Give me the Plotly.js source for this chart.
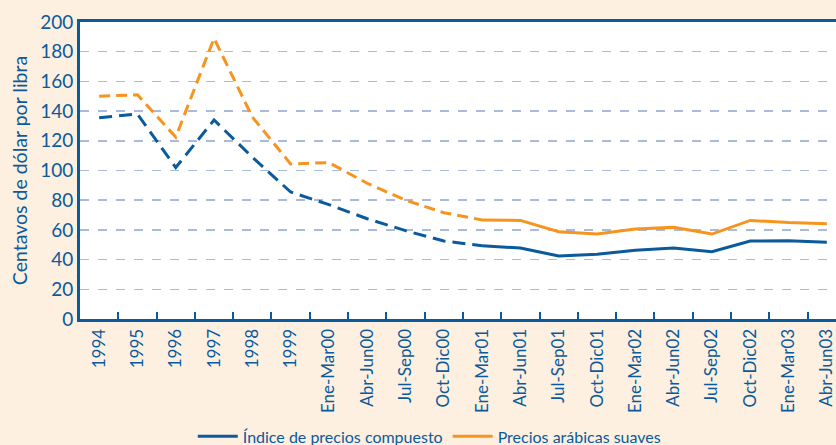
<!DOCTYPE html>
<html>
<head>
<meta charset="utf-8">
<script src="https://cdn.plot.ly/plotly-3.0.1.min.js"></script>
<style>
html,body{margin:0;padding:0;background:#fdf0e0;overflow:hidden;}
#chart{width:836px;height:445px;}
</style>
</head>
<body>
<div id="chart"></div>
<script>
var categories = ["1994","1995","1996","1997","1998","1999",
  "Ene-Mar00","Abr-Jun00","Jul-Sep00","Oct-Dic00",
  "Ene-Mar01","Abr-Jun01","Jul-Sep01","Oct-Dic01",
  "Ene-Mar02","Abr-Jun02","Jul-Sep02","Oct-Dic02",
  "Ene-Mar03","Abr-Jun03"];
var compuesto = [135.5,138,102,134,109,85.5,77,67.5,59.5,52.5,49.3,47.8,42.4,43.6,46.3,47.8,45.3,52.5,52.7,51.6];
var arabicas  = [150,151,122.5,189,136,104.4,105.3,91.4,80,71.6,66.7,66.4,58.8,57.2,60.6,61.7,57.2,66.4,64.9,64.2];
var splitIndex = 10; // annual/early quarterly part drawn dashed

var blue = "#0a5a9c", orange = "#f7941d";

function part(arr, a, b){ return arr.slice(a, b); }

var traces = [
  {x: part(categories,0,splitIndex+1), y: part(compuesto,0,splitIndex+1), type:"scatter", mode:"lines",
   line:{color:blue,width:3,dash:"13px,7px"}, showlegend:false, hoverinfo:"skip"},
  {x: part(categories,0,splitIndex+1), y: part(arabicas,0,splitIndex+1), type:"scatter", mode:"lines",
   line:{color:orange,width:3,dash:"11px,6px"}, showlegend:false, hoverinfo:"skip"},
  {x: part(categories,splitIndex), y: part(compuesto,splitIndex), type:"scatter", mode:"lines",
   name:"Índice de precios compuesto", line:{color:blue,width:3}},
  {x: part(categories,splitIndex), y: part(arabicas,splitIndex), type:"scatter", mode:"lines",
   name:"Precios arábicas suaves", line:{color:orange,width:3}}
];

var layout = {
  width:836, height:445,
  paper_bgcolor:"#fdf0e0", plot_bgcolor:"#ffffff",
  margin:{l:80, r:0, t:22, b:126, autoexpand:false},
  font:{family:"Lato, 'Open Sans', sans-serif", color:blue},
  xaxis:{
    type:"category", categoryorder:"array", categoryarray:categories,
    range:[-0.5, 19.24],
    showline:true, linecolor:blue, linewidth:3, mirror:true,
    ticks:"inside", tickson:"boundaries", ticklen:7, tickwidth:2, tickcolor:blue,
    tickangle:-90, tickfont:{size:17, color:blue},
    showgrid:false, zeroline:false, fixedrange:true, automargin:false
  },
  yaxis:{
    range:[0,200], dtick:20, tick0:0,
    showline:true, linecolor:blue, linewidth:3,
    ticks:"", tickfont:{size:19, color:blue},
    showgrid:true, gridcolor:"#a9badc", gridwidth:1.5, griddash:"dash",
    zeroline:false, automargin:false,
    title:{text:"Centavos de dólar por libra", font:{size:19.5, color:blue}, standoff:8},
    fixedrange:true
  },
  legend:{orientation:"h", x:0.462, xanchor:"center", y:-0.338, yanchor:"top",
    font:{size:16, color:blue}, bgcolor:"rgba(0,0,0,0)", itemwidth:40, tracegroupgap:0},
  showlegend:true
};

Plotly.newPlot("chart", traces, layout, {displayModeBar:false, staticPlot:true});
</script>
</body>
</html>
